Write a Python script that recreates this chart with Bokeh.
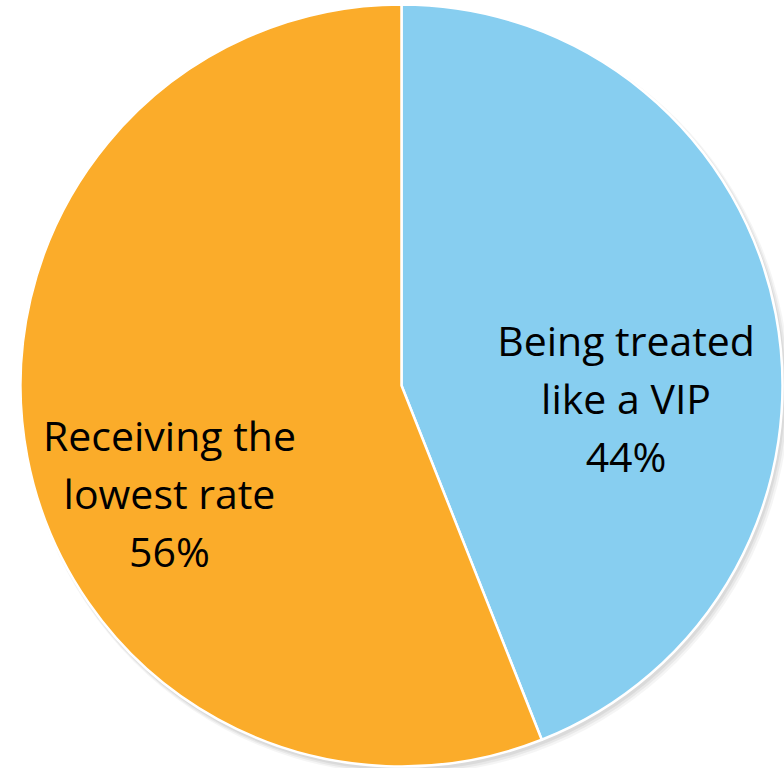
import math
from bokeh.plotting import figure
from bokeh.models import Range1d, ColumnDataSource
from bokeh.core.properties import value
from bokeh.embed import file_html
from bokeh.resources import INLINE

labels = ["Being treated\nlike a VIP", "Receiving the\nlowest rate"]
values = [44, 56]
colors = ["#87CEF0", "#FBAC2A"]

W, H = 784, 768
cx, cy, R = 401, H - 385, 381

total = sum(values)
starts, ends = [], []
a = math.pi / 2
for v in values:
    starts.append(a)
    a -= v / total * 2 * math.pi
    ends.append(a)

src = ColumnDataSource(dict(start=starts, end=ends, color=colors))

p = figure(width=W, height=H, output_backend="svg", toolbar_location=None,
           x_range=Range1d(0, W), y_range=Range1d(0, H), min_border=0)
p.axis.visible = False
p.grid.visible = False
p.outline_line_color = None
p.background_fill_color = "white"

# soft shadow
for i, al in enumerate([0.06, 0.05, 0.04]):
    p.circle(x=[cx + 2 + i], y=[cy - 3 - i], radius=R + 1 + i, fill_color="black",
             fill_alpha=al, line_color=None)

p.wedge(x=cx, y=cy, radius=R, start_angle="start", end_angle="end", direction="clock",
        fill_color="color", line_color="white", line_width=2.5, source=src)

# label anchors (centre of text block), offsets along the slice bisector
label_r = [0.60, 0.62]
label_dy = [-12, -107]
for i, (lab, v) in enumerate(zip(labels, values)):
    mid = (starts[i] + ends[i]) / 2
    lx = cx + label_r[i] * R * math.cos(mid)
    ly = cy + label_dy[i]
    lines = lab.split("\n") + [f"{v}%"]
    n = len(lines)
    for j, t in enumerate(lines):
        p.text(x=[lx], y=[ly + (n - 1) / 2 * 58 - j * 58], text=[t],
               text_font=value("Open Sans"), text_font_size="41px",
               text_align="center", text_baseline="middle", text_color="black")

open("out.html", "w").write(file_html(p, INLINE))
